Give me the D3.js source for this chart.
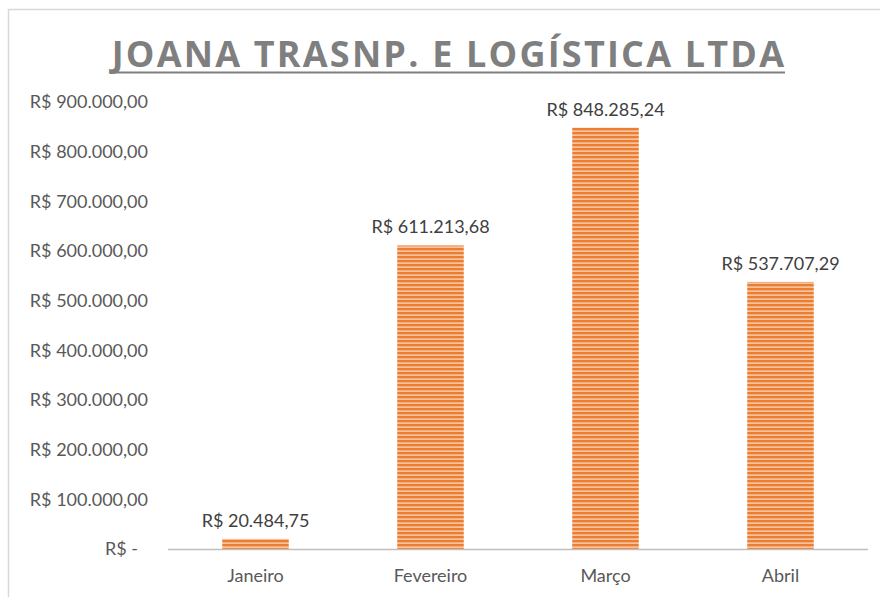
<!DOCTYPE html>
<html><head><meta charset="utf-8">
<script src="https://cdn.jsdelivr.net/npm/d3@7"></script>
<style>body{margin:0;background:#fff}svg{display:block}</style>
</head><body>
<script>
const categories = ["Janeiro","Fevereiro","Março","Abril"];
const values = [20484.75, 611213.68, 848285.24, 537707.29];
const tickValues = [0,100000,200000,300000,400000,500000,600000,700000,800000,900000];
const title = "JOANA TRASNP. E LOGÍSTICA LTDA";

const W=880,H=597;
const svg=d3.select("body").append("svg").attr("width",W).attr("height",H);
const defs=svg.append("defs");
const pat=defs.append("pattern").attr("id","stripes").attr("patternUnits","userSpaceOnUse").attr("width",8).attr("height",4);
pat.append("rect").attr("width",8).attr("height",4).attr("fill","#F7C29E");
pat.append("rect").attr("width",8).attr("height",2.3).attr("fill","#ED7D31");

// border
svg.append("rect").attr("x",8.5).attr("y",9.5).attr("width",W).attr("height",H).attr("fill","none").attr("stroke","#d9d9d9").attr("stroke-width",1.5);

const fmt=v=>{
  if(v===0) return "R$ -";
  const s=v.toFixed(2).split(".");
  return "R$ "+s[0].replace(/\B(?=(\d{3})+(?!\d))/g,".")+","+s[1];
};

const x=d3.scaleBand().domain(categories).range([168,868]).paddingInner(0.62).paddingOuter(0.31);
const y=d3.scaleLinear().domain([0,900000]).range([549,102]);

const font="Lato, 'Open Sans', sans-serif";
const fs=18;

// title
const t=svg.append("text").attr("x",449).attr("y",67).attr("text-anchor","middle")
 .attr("font-family","'Open Sans', Lato, sans-serif").attr("font-weight","bold").attr("font-size",36)
 .attr("fill","#7f7f7f").attr("letter-spacing",2.2).text(title);
svg.append("line").attr("x1",113).attr("x2",785).attr("y1",72.5).attr("y2",72.5).attr("stroke","#7f7f7f").attr("stroke-width",2.2);

// y axis labels
const ya=svg.append("g").attr("transform","translate(148,0)")
 .call(d3.axisLeft(y).tickValues(tickValues).tickSize(0).tickPadding(0).tickFormat(d=>fmt(d)));
ya.select(".domain").remove();
ya.selectAll("text").attr("font-family",font).attr("font-size",fs).attr("fill","#595959");
ya.selectAll(".tick").filter(d=>d===0).select("text").attr("dx",-10);

// bars
svg.append("g").selectAll("rect").data(values).join("rect")
 .attr("x",(d,i)=>x(categories[i])).attr("width",x.bandwidth())
 .attr("y",d=>y(d)).attr("height",d=>y(0)-y(d)).attr("fill","url(#stripes)");

// baseline
svg.append("line").attr("x1",168).attr("x2",868).attr("y1",y(0)+0.5).attr("y2",y(0)+0.5).attr("stroke","#bfbfbf").attr("stroke-width",1.5);

// x labels
const xa=svg.append("g").attr("transform",`translate(0,${y(0)})`).call(d3.axisBottom(x).tickSize(0).tickPadding(20));
xa.select(".domain").remove();
xa.selectAll("text").attr("font-family",font).attr("font-size",fs).attr("fill","#595959");

// data labels
svg.append("g").selectAll("text").data(values).join("text")
 .attr("x",(d,i)=>x(categories[i])+x.bandwidth()/2).attr("y",d=>y(d)-12)
 .attr("text-anchor","middle").attr("font-family",font).attr("font-size",fs).attr("fill","#404040")
 .text(d=>fmt(d));
</script>
</body></html>
